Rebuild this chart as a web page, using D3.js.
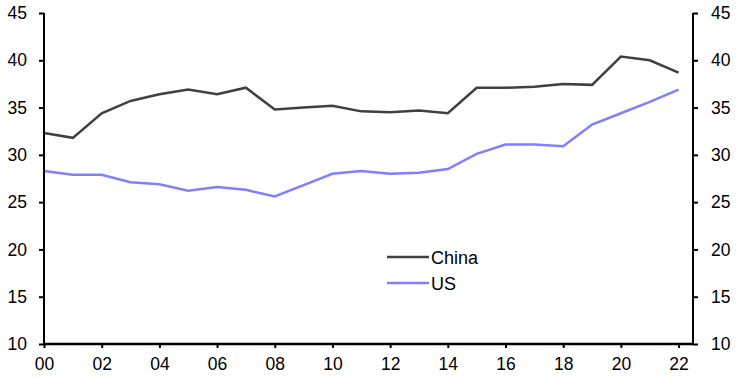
<!DOCTYPE html>
<html>
<head>
<meta charset="utf-8">
<script src="https://cdn.jsdelivr.net/npm/d3@7"></script>
<style>
  body { margin: 0; background: #fff; }
  text { font-family: "Liberation Sans", Arial, sans-serif; fill: #000; }
</style>
</head>
<body>
<div id="chart"></div>
<script>
// years 2000..2022
var years = d3.range(0, 23);
var xTickLabels = ["00","02","04","06","08","10","12","14","16","18","20","22"];
var yTicks = [10, 15, 20, 25, 30, 35, 40, 45];

var china = [32.3, 31.8, 34.4, 35.7, 36.4, 36.9, 36.4, 37.1, 34.8, 35.0, 35.2, 34.6,
             34.5, 34.7, 34.4, 37.1, 37.1, 37.2, 37.5, 37.4, 40.4, 40.0, 38.7];
var us    = [28.3, 27.9, 27.9, 27.1, 26.9, 26.2, 26.6, 26.3, 25.6, 26.8, 28.0, 28.3,
             28.0, 28.1, 28.5, 30.1, 31.1, 31.1, 30.9, 33.2, 34.4, 35.6, 36.9];

var width = 738, height = 378;
var margin = {left: 44, right: 45, top: 13, bottom: 34};
var fontSize = "17.5px";

var svg = d3.select("#chart").append("svg")
  .attr("width", width).attr("height", height);

var x = d3.scaleLinear().domain([0, 22.5]).range([margin.left, width - margin.right]);
var y = d3.scaleLinear().domain([10, 45]).range([height - margin.bottom, margin.top]);

// lines
var line = d3.line()
  .x(function(d, i) { return x(years[i]); })
  .y(function(d) { return y(d); });

svg.append("path").datum(us)
  .attr("fill", "none").attr("stroke", "#7f7fff").attr("stroke-width", 2.5)
  .attr("d", line);
svg.append("path").datum(china)
  .attr("fill", "none").attr("stroke", "#404040").attr("stroke-width", 2.5)
  .attr("d", line);

// axes
var yLeft = d3.axisLeft(y).tickValues(yTicks).tickSize(5).tickPadding(12);
var yRight = d3.axisRight(y).tickValues(yTicks).tickSize(5).tickPadding(13);
var xAxis = d3.axisBottom(x)
  .tickValues(d3.range(0, 23, 2))
  .tickSize(4).tickPadding(10)
  .tickFormat(function(d, i) { return xTickLabels[i]; });

function styleAxis(g) {
  g.select(".domain").remove();
  g.selectAll(".tick line").attr("stroke", "#000").attr("stroke-width", 2);
  g.selectAll("text").style("font-size", fontSize).attr("fill", "#000");
}

svg.append("g").attr("transform", "translate(" + margin.left + ",0)")
  .call(yLeft).call(styleAxis);
svg.append("g").attr("transform", "translate(" + (width - margin.right) + ",0)")
  .call(yRight).call(styleAxis);
svg.append("g").attr("transform", "translate(0," + (height - margin.bottom) + ")")
  .call(xAxis).call(styleAxis);

// axis lines
svg.append("line")
  .attr("x1", margin.left).attr("x2", margin.left)
  .attr("y1", y(45)).attr("y2", y(10) + 1)
  .attr("stroke", "#000").attr("stroke-width", 2);
svg.append("line")
  .attr("x1", width - margin.right).attr("x2", width - margin.right)
  .attr("y1", y(45)).attr("y2", y(10) + 1)
  .attr("stroke", "#000").attr("stroke-width", 2);
svg.append("line")
  .attr("x1", margin.left - 1).attr("x2", width - margin.right + 1)
  .attr("y1", y(10)).attr("y2", y(10))
  .attr("stroke", "#000").attr("stroke-width", 2.5);

// legend
var legend = [{name: "China", color: "#404040"}, {name: "US", color: "#7f7fff"}];
var lg = svg.append("g").attr("transform", "translate(387,257)");
legend.forEach(function(d, i) {
  lg.append("line")
    .attr("x1", 0).attr("x2", 42)
    .attr("y1", i * 26).attr("y2", i * 26)
    .attr("stroke", d.color).attr("stroke-width", 2.5);
  lg.append("text")
    .attr("x", 44).attr("y", i * 26 + 6.5)
    .style("font-size", "18px")
    .text(d.name);
});
</script>
</body>
</html>
